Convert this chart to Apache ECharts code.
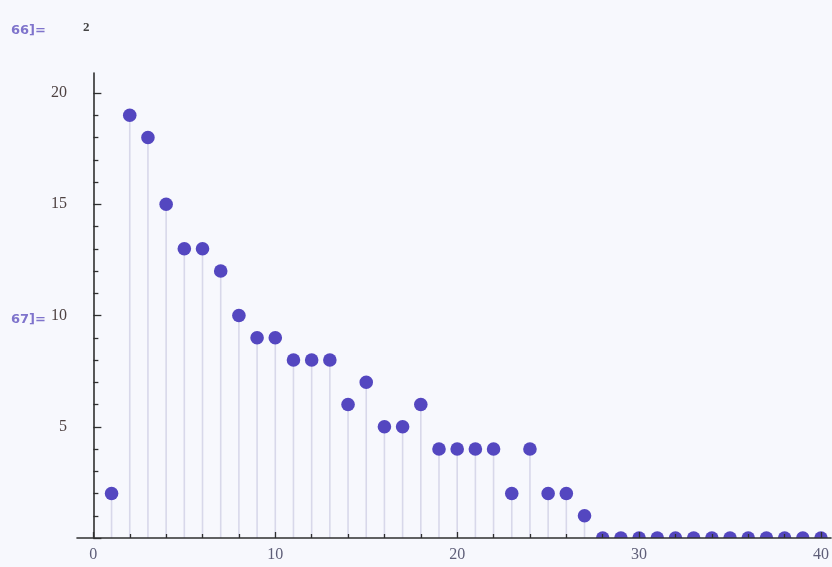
<!DOCTYPE html>
<html>
<head>
<meta charset="utf-8">
<script src="https://cdn.jsdelivr.net/npm/echarts@6/dist/echarts.min.js"></script>
<style>
html,body{margin:0;padding:0;background:#f7f8fd;}
#chart{width:832px;height:567px;}
</style>
</head>
<body>
<div id="chart"></div>
<script>
// Data
const xValues = [1,2,3,4,5,6,7,8,9,10,11,12,13,14,15,16,17,18,19,20,21,22,23,24,25,26,27,28,29,30,31,32,33,34,35,36,37,38,39,40];
const yValues = [2,19,18,15,13,13,12,10,9,9,8,8,8,6,7,5,5,6,4,4,4,4,2,4,2,2,1,0,0,0,0,0,0,0,0,0,0,0,0,0];
const xTickValues = [0,10,20,30,40];
const yTickValues = [5,10,15,20];
const cellLabels = ["66]=", "67]="];
const outValue = "2";

const points = xValues.map((x, i) => [x, yValues[i]]);

const chart = echarts.init(document.getElementById('chart'));
const labelFont = '"Liberation Serif", "DejaVu Serif", serif';

chart.setOption({
  backgroundColor: '#f7f8fd',
  animation: false,
  grid: { left: 77, right: 0, top: 73, bottom: 29, containLabel: false },
  xAxis: {
    type: 'value',
    min: -0.9,
    max: 40.55,
    minInterval: 10,
    maxInterval: 10,
    z: 5,
    splitLine: { show: false },
    axisLine: { show: true, onZero: true, lineStyle: { color: '#2f2f2f', width: 1.6 } },
    axisTick: { show: true, inside: true, length: 6, customValues: xTickValues, lineStyle: { color: '#2f2f2f', width: 1.3 } },
    minorTick: { show: true, splitNumber: 5, length: 4, lineStyle: { color: '#2f2f2f', width: 1.3 } },
    axisLabel: { customValues: xTickValues, color: '#5e5e78', fontFamily: labelFont, fontSize: 16, margin: 9 }
  },
  yAxis: {
    type: 'value',
    min: 0,
    max: 20.9,
    interval: 5,
    z: 5,
    splitLine: { show: false },
    axisLine: { show: true, onZero: true, lineStyle: { color: '#2f2f2f', width: 1.6 } },
    axisTick: { show: true, inside: true, length: 8, customValues: [0,5,10,15,20], lineStyle: { color: '#2f2f2f', width: 1.3 } },
    minorTick: { show: true, splitNumber: 5, length: 5, lineStyle: { color: '#2f2f2f', width: 1.3 } },
    axisLabel: { customValues: yTickValues, color: '#4e4242', fontFamily: labelFont, fontSize: 16, margin: 10 }
  },
  series: [{
    type: 'custom',
    clip: true,
    z: 2,
    data: points,
    renderItem: function (params, api) {
      const x = api.value(0), y = api.value(1);
      const top = api.coord([x, y]);
      const base = api.coord([x, 0]);
      return {
        type: 'group',
        children: [
          { type: 'line', shape: { x1: base[0], y1: base[1], x2: top[0], y2: top[1] },
            style: { stroke: '#d8d8ea', lineWidth: 1.6 } },
          { type: 'circle', shape: { cx: top[0], cy: top[1], r: 6.8 },
            style: { fill: '#5447c0' } }
        ]
      };
    }
  }],
  graphic: [
    { type: 'text', left: 11, top: 24, style: { text: cellLabels[0], fill: '#7f74cc', font: 'bold 13px "DejaVu Sans", sans-serif' } },
    { type: 'text', left: 11, top: 313, style: { text: cellLabels[1], fill: '#7f74cc', font: 'bold 13px "DejaVu Sans", sans-serif' } },
    { type: 'text', left: 83, top: 21, style: { text: outValue, fill: '#444', font: 'bold 13px "Liberation Serif", serif' } }
  ]
});
</script>
</body>
</html>
